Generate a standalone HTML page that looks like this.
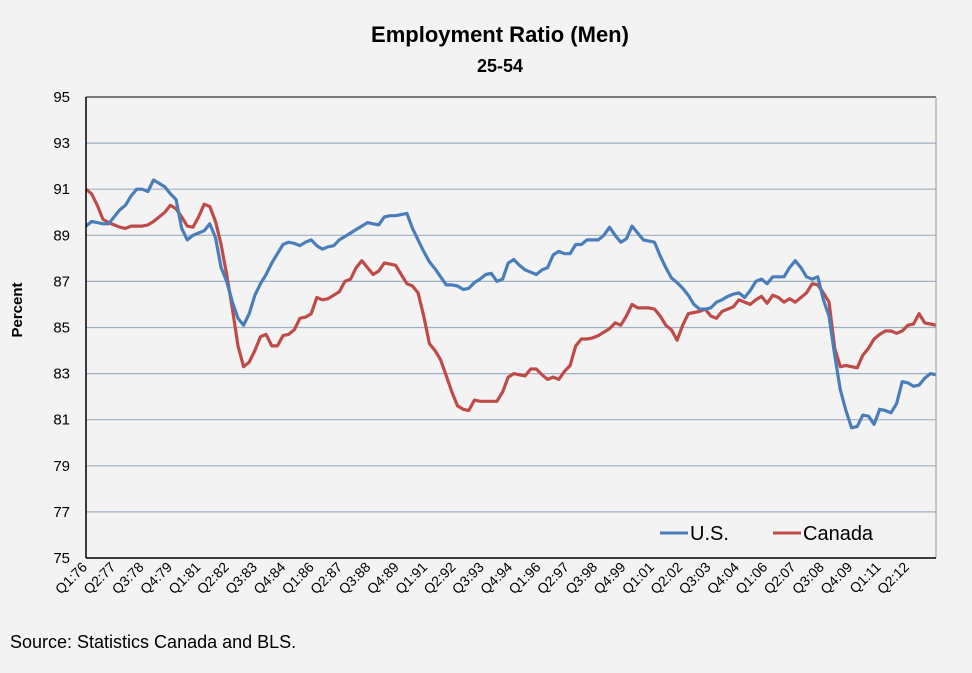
<!DOCTYPE html>
<html><head><meta charset="utf-8"><style>
html,body{margin:0;padding:0;background:#f3f3f3;}
svg{display:block;font-family:"Liberation Sans",sans-serif;}
</style></head><body>
<svg id="chart" width="972" height="673" viewBox="0 0 972 673">
<rect x="0" y="0" width="972" height="673" fill="#f3f3f3"/>
<text x="500" y="42" text-anchor="middle" font-size="22" font-weight="bold" fill="#000">Employment Ratio (Men)</text>
<text x="500" y="72" text-anchor="middle" font-size="18" font-weight="bold" fill="#000">25-54</text>
<text transform="translate(22,310) rotate(-90)" text-anchor="middle" font-size="15" font-weight="bold">Percent</text>
<g id="grid"></g><g id="yticks"></g><g id="xticks"></g><g id="series"></g>
<line x1="86" y1="97" x2="936" y2="97" stroke="#333" stroke-width="1.2"/>
<line x1="936" y1="97" x2="936" y2="558" stroke="#999" stroke-width="1"/>
<line x1="86" y1="97" x2="86" y2="558" stroke="#000" stroke-width="1.5"/>
<line x1="86" y1="558" x2="936" y2="558" stroke="#000" stroke-width="1.5"/>
<g>
<g><line x1="660" y1="533" x2="688" y2="533" stroke="#4a7ebb" stroke-width="3"/><text x="690" y="540" font-size="20" fill="#000">U.S.</text></g>
<g><line x1="773" y1="533" x2="801" y2="533" stroke="#be4b48" stroke-width="3"/><text x="803" y="540" font-size="20" fill="#000">Canada</text></g>
</g>
<text x="10" y="648" font-size="18" fill="#000">Source: Statistics Canada and BLS.</text>
</svg>
<script>
const yTicks=[75,77,79,81,83,85,87,89,91,93,95];
const xLabels=["Q1:76","Q2:77","Q3:78","Q4:79","Q1:81","Q2:82","Q3:83","Q4:84","Q1:86","Q2:87","Q3:88","Q4:89","Q1:91","Q2:92","Q3:93","Q4:94","Q1:96","Q2:97","Q3:98","Q4:99","Q1:01","Q2:02","Q3:03","Q4:04","Q1:06","Q2:07","Q3:08","Q4:09","Q1:11","Q2:12"];
const usValues=[89.4,89.6,89.55,89.5,89.5,89.8,90.1,90.3,90.7,91.0,91.0,90.9,91.4,91.25,91.1,90.8,90.55,89.3,88.8,89.0,89.1,89.2,89.5,88.9,87.6,87.0,86.1,85.4,85.1,85.6,86.4,86.9,87.3,87.8,88.2,88.6,88.7,88.65,88.55,88.7,88.8,88.55,88.4,88.5,88.55,88.8,88.95,89.1,89.25,89.4,89.55,89.5,89.45,89.8,89.85,89.85,89.9,89.95,89.3,88.8,88.3,87.85,87.55,87.2,86.85,86.85,86.8,86.65,86.7,86.95,87.1,87.3,87.35,87.0,87.1,87.8,87.95,87.7,87.5,87.4,87.3,87.5,87.6,88.15,88.3,88.2,88.2,88.6,88.6,88.8,88.8,88.8,89.0,89.35,89.0,88.7,88.85,89.4,89.1,88.8,88.75,88.7,88.1,87.6,87.15,86.95,86.7,86.4,86.0,85.8,85.8,85.85,86.1,86.2,86.35,86.45,86.5,86.3,86.6,87.0,87.1,86.9,87.2,87.2,87.2,87.6,87.9,87.6,87.2,87.1,87.2,86.2,85.5,83.8,82.3,81.4,80.65,80.7,81.2,81.15,80.8,81.45,81.4,81.3,81.7,82.65,82.6,82.45,82.5,82.8,83.0,82.95];
const canadaValues=[91.0,90.8,90.3,89.7,89.55,89.45,89.35,89.3,89.4,89.4,89.4,89.45,89.6,89.8,90.0,90.3,90.15,89.8,89.4,89.35,89.8,90.35,90.25,89.6,88.6,87.3,85.8,84.2,83.3,83.5,84.0,84.6,84.7,84.2,84.2,84.65,84.7,84.9,85.4,85.45,85.6,86.3,86.2,86.25,86.4,86.55,87.0,87.1,87.6,87.9,87.6,87.3,87.45,87.8,87.75,87.7,87.3,86.9,86.8,86.5,85.5,84.3,84.0,83.6,82.9,82.2,81.6,81.45,81.4,81.85,81.8,81.8,81.8,81.8,82.2,82.85,83.0,82.95,82.9,83.2,83.2,82.95,82.75,82.85,82.75,83.1,83.35,84.2,84.5,84.5,84.55,84.65,84.8,84.95,85.2,85.1,85.5,86.0,85.85,85.85,85.85,85.8,85.5,85.1,84.9,84.45,85.1,85.6,85.65,85.7,85.8,85.5,85.4,85.7,85.8,85.9,86.2,86.1,86.0,86.2,86.35,86.05,86.4,86.3,86.1,86.25,86.1,86.3,86.5,86.9,86.85,86.5,86.1,84.1,83.3,83.35,83.3,83.25,83.8,84.1,84.5,84.7,84.85,84.85,84.75,84.85,85.1,85.15,85.6,85.2,85.15,85.1];

const NS="http://www.w3.org/2000/svg";
const X0=86,X1=936,Y0=558,Y1=97,VMIN=75,VMAX=95;
const n=usValues.length;
function xScale(i){return X0+i*(X1-X0)/(n-1);}
function yScale(v){return Y0-(v-VMIN)/(VMAX-VMIN)*(Y0-Y1);}
function labelX(i){return 88+(xScale(i)-X0)*1.007;}
function mk(tag,attrs,parent){const e=document.createElementNS(NS,tag);for(const k in attrs)e.setAttribute(k,attrs[k]);parent.appendChild(e);return e;}
const grid=document.getElementById('grid'),yt=document.getElementById('yticks'),xt=document.getElementById('xticks'),ser=document.getElementById('series');
yTicks.forEach(v=>{
  if(v>VMIN&&v<VMAX){const g=mk('line',{x1:X0,x2:X1,y1:yScale(v),y2:yScale(v),stroke:'#9fb0c2','stroke-width':1.2},grid);
  
  }
  const t=mk('text',{x:70,y:yScale(v)+5,'text-anchor':'end','font-size':15,fill:'#000'},yt);
  t.textContent=v;
  
  
});
xLabels.forEach((lab,k)=>{
  const x=labelX(k*5);
  const t=mk('text',{transform:'translate('+x+',568) rotate(-45)','text-anchor':'end','font-size':14,fill:'#000'},xt);
  t.textContent=lab;
  
  
});
function drawLine(vals,color,name){
  const d=vals.map((v,i)=>(i?'L':'M')+xScale(i).toFixed(1)+' '+yScale(v).toFixed(1)).join(' ');
  const p=mk('path',{d:d,fill:'none',stroke:color,'stroke-width':3.2,'stroke-linejoin':'round'},ser);
  
  
}
drawLine(canadaValues,'#be4b48','canada-line');
drawLine(usValues,'#4a7ebb','us-line');
</script>
</body></html>
